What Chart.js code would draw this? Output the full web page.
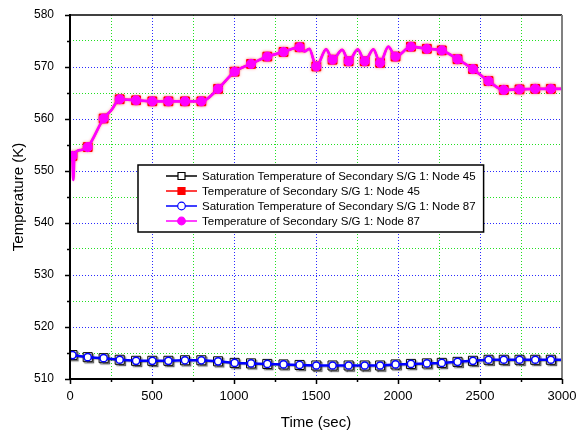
<!DOCTYPE html>
<html>
<head>
<meta charset="utf-8">
<title>S/G 1 secondary temperatures</title>
<script src="https://cdn.jsdelivr.net/npm/chart.js@4.4.0/dist/chart.umd.min.js"></script>
<style>
  html, body { margin: 0; padding: 0; background: #fff; }
  #wrap { width: 579px; height: 437px; }
</style>
</head>
<body>
<div id="wrap"><canvas id="chart" width="579" height="437"></canvas></div>
<script>
// Times (sec) where symbols are plotted
const markerTime = [15, 108, 205, 303, 403, 502, 600, 701, 801, 903, 1004, 1104, 1203, 1302, 1400,
  1502, 1601, 1699, 1797, 1891, 1985, 2079, 2176, 2267, 2363, 2457, 2552, 2645, 2741, 2837, 2932];

// Saturation temperatures (K), one per marker, plus the end of run at 3000 s
const satTime = markerTime.concat([3000]);
const satNode45 = [514.6, 514.2, 514.0, 513.7, 513.5, 513.5, 513.5, 513.6, 513.6, 513.4, 513.1, 513.0, 512.9, 512.8, 512.7,
  512.6, 512.6, 512.6, 512.6, 512.6, 512.8, 512.9, 513.0, 513.1, 513.3, 513.5, 513.7, 513.7, 513.7, 513.7, 513.7, 513.7];
const satNode87 = [514.6, 514.2, 514.0, 513.7, 513.5, 513.5, 513.5, 513.6, 513.6, 513.4, 513.1, 513.0, 512.9, 512.8, 512.7,
  512.6, 512.6, 512.6, 512.6, 512.6, 512.8, 512.9, 513.0, 513.1, 513.3, 513.5, 513.7, 513.7, 513.7, 513.7, 513.7, 513.7];

// Secondary temperature (K) - the curve includes the oscillation peaks between markers
const tempTime = [15, 20, 27, 58, 108, 205, 252, 303, 403, 502, 600, 701, 801, 903, 1004, 1104, 1203, 1302, 1400, 1430, 1459,
  1502, 1562, 1601, 1660, 1699, 1755, 1797, 1850, 1891, 1941, 1985, 2079, 2176, 2267, 2363, 2457, 2552, 2645, 2741, 2837, 2932, 3000];
const tempNode45 = [552.9, 548.3, 553.2, 554.0, 554.6, 560.1, 561.7, 563.8, 563.6, 563.4, 563.4, 563.4, 563.4, 565.8, 569.1, 570.6, 572.0, 572.9, 573.8, 573.0, 573.5,
  570.1, 573.4, 571.4, 573.3, 571.1, 573.4, 571.1, 573.4, 570.8, 573.9, 572.0, 573.9, 573.5, 573.2, 571.5, 569.6, 567.3, 565.6, 565.7, 565.8, 565.8, 565.8];
const tempNode87 = [552.9, 548.3, 553.2, 554.0, 554.6, 560.1, 561.7, 563.8, 563.6, 563.4, 563.4, 563.4, 563.4, 565.8, 569.1, 570.6, 572.0, 572.9, 573.8, 573.0, 573.5,
  570.1, 573.4, 571.4, 573.3, 571.1, 573.4, 571.1, 573.4, 570.8, 573.9, 572.0, 573.9, 573.5, 573.2, 571.5, 569.6, 567.3, 565.6, 565.7, 565.8, 565.8, 565.8];

const seriesLabels = [
  'Saturation Temperature of Secondary S/G 1: Node 45',
  'Temperature of Secondary S/G 1: Node 45',
  'Saturation Temperature of Secondary S/G 1: Node 87',
  'Temperature of Secondary S/G 1: Node 87'
];

const FONT = '"Liberation Sans", Arial, sans-serif';
const MAJOR_GRID = '#2a2aff';
const MINOR_GRID = '#22e022';

function toPoints(xs, ys) {
  return xs.map((x, i) => ({ x: x, y: ys[i] }));
}
function markerRadius(r) {
  return ctx => (ctx.raw && markerTime.includes(ctx.raw.x)) ? r : 0;
}

// Origin-style legend: line sample with the symbol in the middle
const styles = [
  { line: '#000000', style: 'rect', fill: '#ffffff', stroke: '#000000' },
  { line: '#ff0000', style: 'rect', fill: '#ff0000', stroke: '#ff0000' },
  { line: '#0000ff', style: 'circle', fill: '#ffffff', stroke: '#0000ff' },
  { line: '#ff00ff', style: 'circle', fill: '#ff00ff', stroke: '#ff00ff' }
];

const frameAndLegend = {
  id: 'frameAndLegend',
  beforeDatasetDraw(chart, args) {
    const ctx = chart.ctx;
    if (args.index === 0) {
      ctx.save();
      ctx.shadowColor = 'rgba(0,0,0,0.45)';
      ctx.shadowOffsetX = 1.5;
      ctx.shadowOffsetY = 1.5;
      ctx.shadowBlur = 1;
    } else if (args.index === 1) {
      ctx.save();
      ctx.shadowColor = 'rgba(255,0,0,0.5)';
      ctx.shadowBlur = 3;
    }
  },
  afterDatasetDraw(chart, args) {
    if (args.index === 0 || args.index === 1) chart.ctx.restore();
  },
  afterDatasetsDraw(chart) {
    const { ctx, chartArea: a, scales: { x, y } } = chart;
    ctx.save();

    // tick marks, major ones longer
    ctx.strokeStyle = '#000';
    ctx.lineWidth = 1.5;
    ctx.beginPath();
    x.ticks.forEach(t => {
      const px = Math.round(x.getPixelForValue(t.value)) + 0.5;
      const len = t.value % 500 === 0 ? 5 : 3;
      ctx.moveTo(px, a.bottom);
      ctx.lineTo(px, a.bottom + len);
    });
    y.ticks.forEach(t => {
      const py = Math.round(y.getPixelForValue(t.value)) + 0.5;
      const len = t.value % 10 === 0 ? 5 : 3;
      ctx.moveTo(a.left, py);
      ctx.lineTo(a.left - len, py);
    });
    ctx.stroke();

    // frame
    ctx.lineWidth = 1.5;
    ctx.beginPath();
    ctx.moveTo(a.left, a.top);
    ctx.lineTo(a.right, a.top);
    ctx.stroke();
    ctx.strokeStyle = '#808080';
    ctx.lineWidth = 2;
    ctx.beginPath();
    ctx.moveTo(a.right, a.top);
    ctx.lineTo(a.right, a.bottom);
    ctx.stroke();
    ctx.strokeStyle = '#000';
    ctx.beginPath();
    ctx.moveTo(a.left, a.top - 1);
    ctx.lineTo(a.left, a.bottom);
    ctx.lineTo(a.right, a.bottom);
    ctx.stroke();

    // legend box
    ctx.font = '11.5px ' + FONT;
    const textX = 202;
    const widths = seriesLabels.map(s => ctx.measureText(s).width);
    const boxL = 138, boxT = 165, boxB = 232;
    const boxR = textX + Math.max(...widths) + 8;
    ctx.fillStyle = '#fff';
    ctx.fillRect(boxL, boxT, boxR - boxL, boxB - boxT);
    ctx.strokeStyle = '#000';
    ctx.lineWidth = 1.5;
    ctx.strokeRect(boxL, boxT, boxR - boxL, boxB - boxT);

    styles.forEach((s, i) => {
      const cy = 176 + i * 15;
      ctx.strokeStyle = s.line;
      ctx.lineWidth = 1.5;
      ctx.beginPath();
      ctx.moveTo(166, cy);
      ctx.lineTo(197, cy);
      ctx.stroke();
      ctx.fillStyle = s.fill;
      ctx.strokeStyle = s.stroke;
      ctx.lineWidth = 1.2;
      ctx.beginPath();
      if (s.style === 'rect') ctx.rect(181.5 - 3.5, cy - 3.5, 7, 7);
      else ctx.arc(181.5, cy, 3.8, 0, Math.PI * 2);
      ctx.fill();
      ctx.stroke();
      ctx.fillStyle = '#000';
      ctx.textAlign = 'left';
      ctx.textBaseline = 'middle';
      ctx.fillText(seriesLabels[i], textX, cy + 0.5);
    });
    ctx.restore();
  }
};

new Chart(document.getElementById('chart'), {
  type: 'line',
  data: {
    datasets: [
      {
        label: seriesLabels[0],
        data: toPoints(satTime, satNode45),
        borderColor: '#000', borderWidth: 1,
        pointStyle: 'rect', pointRadius: markerRadius(6.4),
        pointBackgroundColor: '#fff', pointBorderColor: '#000', pointBorderWidth: 1,
        order: 4
      },
      {
        label: seriesLabels[1],
        data: toPoints(tempTime, tempNode45),
        borderColor: '#ff0000', borderWidth: 2, cubicInterpolationMode: 'monotone',
        pointStyle: 'rect', pointRadius: markerRadius(6.2),
        pointBackgroundColor: '#ff0000', pointBorderColor: '#ff0000', pointBorderWidth: 1,
        order: 3
      },
      {
        label: seriesLabels[2],
        data: toPoints(satTime, satNode87),
        borderColor: '#0000ff', borderWidth: 2.5,
        pointStyle: 'circle', pointRadius: markerRadius(3.6),
        pointBackgroundColor: '#fff', pointBorderColor: '#0000ff', pointBorderWidth: 1.5,
        order: 2
      },
      {
        label: seriesLabels[3],
        data: toPoints(tempTime, tempNode87),
        borderColor: '#ff00ff', borderWidth: 2.7, cubicInterpolationMode: 'monotone',
        pointStyle: 'circle', pointRadius: markerRadius(4.6),
        pointBackgroundColor: '#ff00ff', pointBorderColor: '#ff00ff', pointBorderWidth: 1,
        order: 1
      }
    ]
  },
  options: {
    responsive: false,
    animation: false,
    devicePixelRatio: 1,
    layout: { padding: { top: 15, right: 17, left: 0, bottom: 0 } },
    elements: { line: { tension: 0 }, point: { hoverRadius: 0 } },
    plugins: { legend: { display: false }, tooltip: { enabled: false } },
    scales: {
      x: {
        type: 'linear', min: 0, max: 3000,
        afterFit: s => { s.height = 58; s.paddingLeft = 0; s.paddingRight = 0; },
        border: { display: false, dash: [1, 2] },
        grid: {
          drawTicks: false, lineWidth: 1,
          color: c => (c.tick.value === 0 || c.tick.value === 3000) ? 'rgba(0,0,0,0)'
            : (c.tick.value % 500 === 0 ? MAJOR_GRID : MINOR_GRID)
        },
        ticks: {
          stepSize: 250, autoSkip: false, maxRotation: 0, padding: 10,
          color: '#000', font: { family: FONT, size: 13 },
          callback: v => v % 500 === 0 ? v : ''
        },
        title: {
          display: true, text: 'Time (sec)', color: '#000',
          font: { family: FONT, size: 15 }, padding: { top: 0, bottom: 5 }
        }
      },
      y: {
        min: 510, max: 580,
        afterFit: s => { s.width = 70; s.paddingTop = 0; s.paddingBottom = 0; },
        border: { display: false, dash: [1, 2] },
        grid: {
          drawTicks: false, lineWidth: 1,
          color: c => (c.tick.value === 510 || c.tick.value === 580) ? 'rgba(0,0,0,0)'
            : (c.tick.value % 10 === 0 ? MAJOR_GRID : MINOR_GRID)
        },
        ticks: {
          stepSize: 5, autoSkip: false, padding: 16,
          color: '#000', font: { family: FONT, size: 12 },
          callback: v => v % 10 === 0 ? v : ''
        },
        title: {
          display: true, text: 'Temperature (K)', color: '#000',
          font: { family: FONT, size: 15 }, padding: { top: 10, bottom: 0 }
        }
      }
    }
  },
  plugins: [frameAndLegend]
});
</script>
</body>
</html>
